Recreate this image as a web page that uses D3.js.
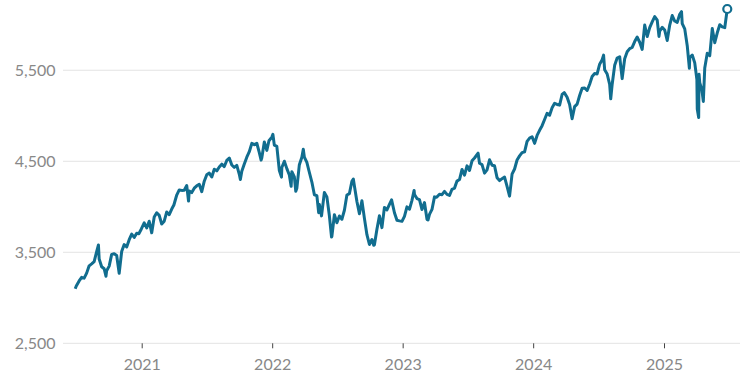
<!DOCTYPE html>
<meta charset="utf-8">
<script src="https://d3js.org/d3.v7.min.js"></script>
<style>
  body { margin: 0; background: #fff; }
  text { font-family: Lato, "Open Sans", sans-serif; }
</style>
<div id="chart"></div>
<script>

// weekly closes (plus a few notable intraweek highs/lows)
const dates = [
  "2020-06-29","2020-07-02","2020-07-10","2020-07-17","2020-07-24","2020-07-31","2020-08-07","2020-08-14","2020-08-21","2020-08-28","2020-09-02","2020-09-04","2020-09-11","2020-09-18","2020-09-23","2020-09-25","2020-10-02","2020-10-09","2020-10-16","2020-10-23","2020-10-30","2020-11-06","2020-11-13","2020-11-20","2020-11-27","2020-12-04","2020-12-11","2020-12-18","2020-12-24","2020-12-31",
  "2021-01-08","2021-01-15","2021-01-22","2021-01-29","2021-02-05","2021-02-12","2021-02-19","2021-02-26","2021-03-05","2021-03-12","2021-03-19","2021-03-26","2021-04-01","2021-04-09","2021-04-16","2021-04-23","2021-04-30","2021-05-07","2021-05-12","2021-05-14","2021-05-21","2021-05-28","2021-06-04","2021-06-11","2021-06-18","2021-06-25","2021-07-02","2021-07-09","2021-07-16","2021-07-23","2021-07-30","2021-08-06","2021-08-13","2021-08-20","2021-08-27","2021-09-03","2021-09-10","2021-09-17","2021-09-24","2021-10-01","2021-10-04","2021-10-08","2021-10-15","2021-10-22","2021-10-29","2021-11-05","2021-11-12","2021-11-19","2021-11-26","2021-12-01","2021-12-03","2021-12-10","2021-12-17","2021-12-23","2021-12-31",
  "2022-01-03","2022-01-07","2022-01-14","2022-01-21","2022-01-27","2022-01-28","2022-02-04","2022-02-11","2022-02-18","2022-02-23","2022-02-25","2022-03-04","2022-03-08","2022-03-11","2022-03-18","2022-03-25","2022-03-29","2022-04-01","2022-04-08","2022-04-14","2022-04-22","2022-04-29","2022-05-06","2022-05-11","2022-05-13","2022-05-19","2022-05-27","2022-06-03","2022-06-10","2022-06-16","2022-06-17","2022-06-24","2022-07-01","2022-07-08","2022-07-15","2022-07-22","2022-07-29","2022-08-05","2022-08-12","2022-08-16","2022-08-19","2022-08-26","2022-09-02","2022-09-09","2022-09-16","2022-09-23","2022-09-30","2022-10-07","2022-10-12","2022-10-14","2022-10-21","2022-10-28","2022-11-04","2022-11-11","2022-11-18","2022-11-25","2022-12-01","2022-12-09","2022-12-16","2022-12-23","2022-12-30",
  "2023-01-06","2023-01-13","2023-01-20","2023-01-27","2023-02-02","2023-02-03","2023-02-10","2023-02-17","2023-02-24","2023-03-03","2023-03-10","2023-03-13","2023-03-17","2023-03-24","2023-03-31","2023-04-06","2023-04-14","2023-04-21","2023-04-28","2023-05-05","2023-05-12","2023-05-19","2023-05-26","2023-06-02","2023-06-09","2023-06-16","2023-06-23","2023-06-30","2023-07-07","2023-07-14","2023-07-21","2023-07-31","2023-08-04","2023-08-11","2023-08-18","2023-08-25","2023-09-01","2023-09-08","2023-09-15","2023-09-22","2023-09-29","2023-10-06","2023-10-13","2023-10-20","2023-10-27","2023-11-03","2023-11-10","2023-11-17","2023-11-24","2023-12-01","2023-12-08","2023-12-15","2023-12-22","2023-12-29",
  "2024-01-05","2024-01-12","2024-01-19","2024-01-26","2024-02-02","2024-02-09","2024-02-16","2024-02-23","2024-03-01","2024-03-08","2024-03-15","2024-03-22","2024-03-28","2024-04-05","2024-04-12","2024-04-19","2024-04-26","2024-05-03","2024-05-10","2024-05-17","2024-05-24","2024-05-31","2024-06-07","2024-06-14","2024-06-21","2024-06-28","2024-07-05","2024-07-12","2024-07-16","2024-07-19","2024-07-26","2024-08-02","2024-08-05","2024-08-09","2024-08-16","2024-08-23","2024-08-30","2024-09-06","2024-09-13","2024-09-20","2024-09-27","2024-10-04","2024-10-11","2024-10-18","2024-10-25","2024-11-01","2024-11-08","2024-11-15","2024-11-22","2024-11-29","2024-12-06","2024-12-13","2024-12-18","2024-12-20","2024-12-27",
  "2025-01-03","2025-01-10","2025-01-17","2025-01-24","2025-01-31","2025-02-07","2025-02-14","2025-02-19","2025-02-21","2025-02-28","2025-03-07","2025-03-13","2025-03-14","2025-03-21","2025-03-28","2025-04-03","2025-04-04","2025-04-08","2025-04-09","2025-04-11","2025-04-17","2025-04-21","2025-04-25","2025-05-02","2025-05-09","2025-05-16","2025-05-23","2025-05-30","2025-06-06","2025-06-13","2025-06-20","2025-06-27"
];

const values = [
  3100,3130,3185,3225,3216,3271,3351,3373,3397,3508,3580,3427,3341,3319,3237,3298,3348,3477,3484,3465,3270,3509,3585,3558,3638,3699,3663,3709,3703,3756,
  3824,3768,3841,3714,3887,3934,3906,3811,3842,3943,3913,3975,4020,4129,4185,4180,4181,4233,4063,4174,4156,4204,4230,4247,4166,4281,4352,4370,4327,4412,4395,4437,4468,4442,4509,4535,4459,4433,4455,4357,4300,4391,4471,4545,4605,4697,4683,4698,4595,4513,4538,4712,4620,4726,4766,
  4796,4677,4663,4398,4326,4432,4501,4419,4349,4225,4385,4329,4170,4204,4463,4543,4632,4546,4488,4393,4272,4132,4123,3935,4024,3900,4158,4109,3901,3667,3675,3912,3825,3899,3863,3962,4130,4145,4280,4305,4228,4058,3924,4067,3873,3693,3586,3640,3577,3583,3752,3901,3771,3993,3965,4026,4076,3934,3852,3845,3840,
  3895,3999,3973,4071,4180,4136,4090,4079,3970,4046,3862,3855,3917,3971,4109,4105,4138,4133,4169,4136,4124,4192,4205,4282,4299,4410,4348,4450,4399,4505,4536,4589,4478,4464,4370,4406,4516,4457,4450,4320,4288,4309,4327,4224,4117,4358,4415,4514,4559,4595,4604,4719,4755,4770,
  4697,4784,4840,4891,4959,5027,5006,5089,5137,5124,5117,5234,5254,5204,5123,4967,5100,5128,5223,5303,5305,5278,5347,5432,5465,5460,5567,5615,5667,5505,5459,5346,5186,5344,5554,5634,5648,5408,5626,5703,5738,5751,5815,5865,5808,5729,5996,5871,5969,6032,6090,6051,5872,5931,5971,
  5942,5827,5997,6101,6041,6026,6115,6144,6013,5955,5770,5522,5639,5667,5581,5397,5074,4982,5457,5363,5283,5158,5525,5687,5660,5958,5803,5912,6000,5977,5968,6173
];

const yTicks = [2500, 3500, 4500, 5500];
const xTicks = ["2021-01-01","2022-01-01","2023-01-01","2024-01-01","2025-01-01"];

const parse = d3.timeParse("%Y-%m-%d");
const data = dates.map((d, i) => ({date: parse(d), value: values[i]}));

const width = 750, height = 375;

const svg = d3.select("#chart")
    .append("svg")
    .attr("width", width)
    .attr("height", height);

const x = d3.scaleTime()
    .domain([parse("2021-01-01"), parse("2025-01-01")])
    .range([141.7, 664]);

const y = d3.scaleLinear()
    .domain([2500, 6250])
    .range([343.3, 2]);

// gridlines
svg.append("g")
  .selectAll("line")
  .data(yTicks)
  .join("line")
    .attr("x1", 63)
    .attr("x2", 740)
    .attr("y1", d => y(d))
    .attr("y2", d => y(d))
    .attr("stroke", "#e3e3e3")
    .attr("stroke-width", 1);

// y labels
svg.append("g")
  .selectAll("text")
  .data(yTicks)
  .join("text")
    .attr("x", 55.5)
    .attr("y", d => y(d))
    .attr("dy", "0.35em")
    .attr("text-anchor", "end")
    .attr("fill", "#888")
    .style("font-size", "16px")
    .text(d => d3.format(",")(d));

// x axis
const xAxis = svg.append("g")
    .attr("transform", `translate(0, ${y(2500)})`)
    .call(d3.axisBottom(x)
      .tickValues(xTicks.map(parse))
      .tickFormat(d3.timeFormat("%Y"))
      .tickSize(5)
      .tickPadding(10));
xAxis.select(".domain").remove();
xAxis.selectAll(".tick line").attr("stroke", "#444");
xAxis.selectAll(".tick text")
    .attr("fill", "#888")
    .style("font-size", "16px")
    .style("font-family", "Lato, 'Open Sans', sans-serif");

// line
const line = d3.line()
    .x(d => x(d.date))
    .y(d => y(d.value));

svg.append("path")
    .datum(data)
    .attr("fill", "none")
    .attr("stroke", "#116d8f")
    .attr("stroke-width", 3)
    .attr("stroke-linejoin", "round")
    .attr("d", line);

// end marker
const last = data[data.length - 1];
svg.append("circle")
    .attr("cx", x(last.date))
    .attr("cy", y(last.value))
    .attr("r", 4)
    .attr("fill", "#fff")
    .attr("stroke", "#116d8f")
    .attr("stroke-width", 2.2);

</script>
